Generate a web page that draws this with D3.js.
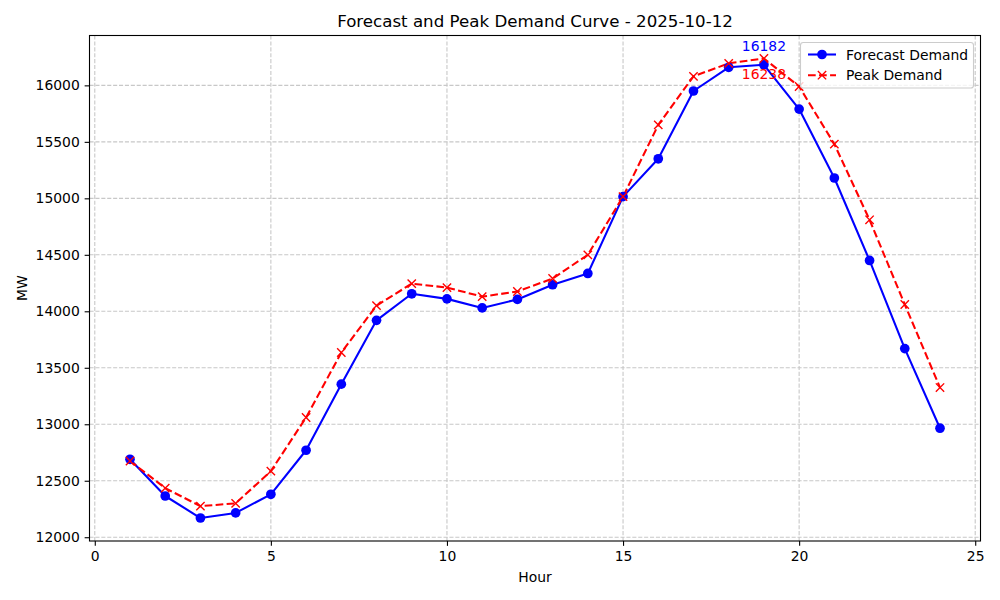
<!DOCTYPE html>
<html>
<head>
<meta charset="utf-8">
<script src="https://cdn.jsdelivr.net/npm/d3@7"></script>
<style>
body { margin: 0; background: #fff; }
svg { display: block; font-family: "DejaVu Sans", sans-serif; }
</style>
</head>
<body>
<svg id="chart" width="1000" height="600"></svg>
<script>
const hours = [1,2,3,4,5,6,7,8,9,10,11,12,13,14,15,16,17,18,19,20,21,22,23,24];
const forecastDemand = [12690,12365,12170,12215,12380,12770,13355,13920,14155,14110,14030,14105,14235,14335,15015,15350,15950,16160,16182,15790,15180,14450,13670,12965];
const peakDemand = [12675,12435,12275,12300,12585,13060,13635,14050,14245,14210,14130,14175,14290,14500,15015,15650,16080,16195,16238,15990,15480,14810,14060,13325];
const xTicks = [0,5,10,15,20,25];
const yTicks = [12000,12500,13000,13500,14000,14500,15000,15500,16000];
const seriesNames = ["Forecast Demand", "Peak Demand"];
const titleText = "Forecast and Peak Demand Curve - 2025-10-12";

const svg = d3.select("#chart");
const L = 89.5, R = 980.5, T = 35.5, B = 541;

const xMin = 1, xMax = 24, xPad = (xMax - xMin) * 0.05;
const allY = forecastDemand.concat(peakDemand);
const yMin = d3.min(allY), yMax = d3.max(allY), yPad = (yMax - yMin) * 0.05;

const x = d3.scaleLinear().domain([xMin - xPad, xMax + xPad]).range([L, R]);
const y = d3.scaleLinear().domain([yMin - yPad, yMax + yPad]).range([B, T]);

// grid
const grid = svg.append("g");
xTicks.forEach(t => grid.append("line")
  .attr("x1", x(t)).attr("x2", x(t)).attr("y1", T).attr("y2", B)
  .attr("stroke", "#c8c8c8").attr("stroke-width", 1.1)
  .attr("stroke-dasharray", "4.1,1.8"));
yTicks.forEach(t => grid.append("line")
  .attr("y1", y(t)).attr("y2", y(t)).attr("x1", L).attr("x2", R)
  .attr("stroke", "#c8c8c8").attr("stroke-width", 1.1)
  .attr("stroke-dasharray", "4.1,1.8"));

// axes
const xAxis = d3.axisBottom(x).tickValues(xTicks).tickSizeOuter(0).tickSize(4.86).tickPadding(4.86).tickFormat(d3.format("d"));
const yAxis = d3.axisLeft(y).tickValues(yTicks).tickSizeOuter(0).tickSize(4.86).tickPadding(4.86).tickFormat(d3.format("d"));
const gx = svg.append("g").attr("transform", `translate(0,${B})`).call(xAxis);
const gy = svg.append("g").attr("transform", `translate(${L},0)`).call(yAxis);
[gx, gy].forEach(g => {
  g.select(".domain").remove();
  g.selectAll(".tick line").attr("stroke", "#000").attr("stroke-width", 1.1);
  g.selectAll(".tick text").attr("fill", "#000").style("font-size", "13.9px").style("font-family", "DejaVu Sans");
});

// lines
const lineF = d3.line().x((d, i) => x(hours[i])).y(d => y(d));
svg.append("path").datum(forecastDemand).attr("d", lineF)
  .attr("fill", "none").attr("stroke", "#0000ff").attr("stroke-width", 2.08).attr("stroke-linejoin", "round");
svg.append("path").datum(peakDemand).attr("d", lineF)
  .attr("fill", "none").attr("stroke", "#ff0000").attr("stroke-width", 2.08)
  .attr("stroke-dasharray", "7.7,3.33");

// markers
svg.append("g").selectAll("circle").data(forecastDemand).join("circle")
  .attr("cx", (d, i) => x(hours[i])).attr("cy", d => y(d)).attr("r", 4.85)
  .attr("fill", "#0000ff");
const xm = 4.17;
const xg = svg.append("g");
peakDemand.forEach((d, i) => {
  const cx = x(hours[i]), cy = y(d);
  xg.append("path").attr("d", `M${cx-xm},${cy-xm}L${cx+xm},${cy+xm}M${cx-xm},${cy+xm}L${cx+xm},${cy-xm}`)
    .attr("stroke", "#ff0000").attr("stroke-width", 1.39).attr("fill", "none");
});

// frame
svg.append("rect").attr("x", L).attr("y", T).attr("width", R - L).attr("height", B - T)
  .attr("fill", "none").attr("stroke", "#000").attr("stroke-width", 1.1);

// annotations at peaks
const fi = forecastDemand.indexOf(d3.max(forecastDemand));
const pi = peakDemand.indexOf(d3.max(peakDemand));
svg.append("text").attr("x", x(hours[fi])).attr("y", y(forecastDemand[fi]) - 13.9)
  .attr("text-anchor", "middle").attr("fill", "#0000ff").style("font-size", "13.9px")
  .text(forecastDemand[fi]);
svg.append("text").attr("x", x(hours[pi])).attr("y", y(peakDemand[pi]) + 20.5)
  .attr("text-anchor", "middle").attr("fill", "#ff0000").style("font-size", "13.9px")
  .text(peakDemand[pi]);

// title and labels
svg.append("text").attr("x", (L + R) / 2).attr("y", T - 8.5).attr("text-anchor", "middle")
  .style("font-size", "16.67px").attr("fill", "#000").text(titleText);
svg.append("text").attr("x", (L + R) / 2).attr("y", 582).attr("text-anchor", "middle")
  .style("font-size", "13.9px").attr("fill", "#000").text("Hour");
svg.append("text").attr("transform", `translate(27,${(T + B) / 2}) rotate(-90)`).attr("text-anchor", "middle")
  .style("font-size", "13.9px").attr("fill", "#000").text("MW");

// legend
const lg = svg.append("g");
lg.append("rect").attr("x", 800.5).attr("y", 42.5).attr("width", 173).attr("height", 45.5).attr("rx", 2.8)
  .attr("fill", "#fff").attr("fill-opacity", 0.8).attr("stroke", "#cccccc").attr("stroke-width", 1.1);
const items = [
  {name: seriesNames[0], color: "#0000ff", dash: null, marker: "o"},
  {name: seriesNames[1], color: "#ff0000", dash: "7.7,3.33", marker: "x"}
];
items.forEach((it, i) => {
  const cy = 54.5 + i * 20.7;
  lg.append("line").attr("x1", 808).attr("x2", 836).attr("y1", cy).attr("y2", cy)
    .attr("stroke", it.color).attr("stroke-width", 2.08).attr("stroke-dasharray", it.dash);
  if (it.marker === "o") {
    lg.append("circle").attr("cx", 822).attr("cy", cy).attr("r", 4.85).attr("fill", it.color);
  } else {
    lg.append("path").attr("d", `M${822-xm},${cy-xm}L${822+xm},${cy+xm}M${822-xm},${cy+xm}L${822+xm},${cy-xm}`)
      .attr("stroke", it.color).attr("stroke-width", 1.39);
  }
  lg.append("text").attr("x", 846).attr("y", cy + 5).style("font-size", "13.9px").attr("fill", "#000").text(it.name);
});
</script>
</body>
</html>
